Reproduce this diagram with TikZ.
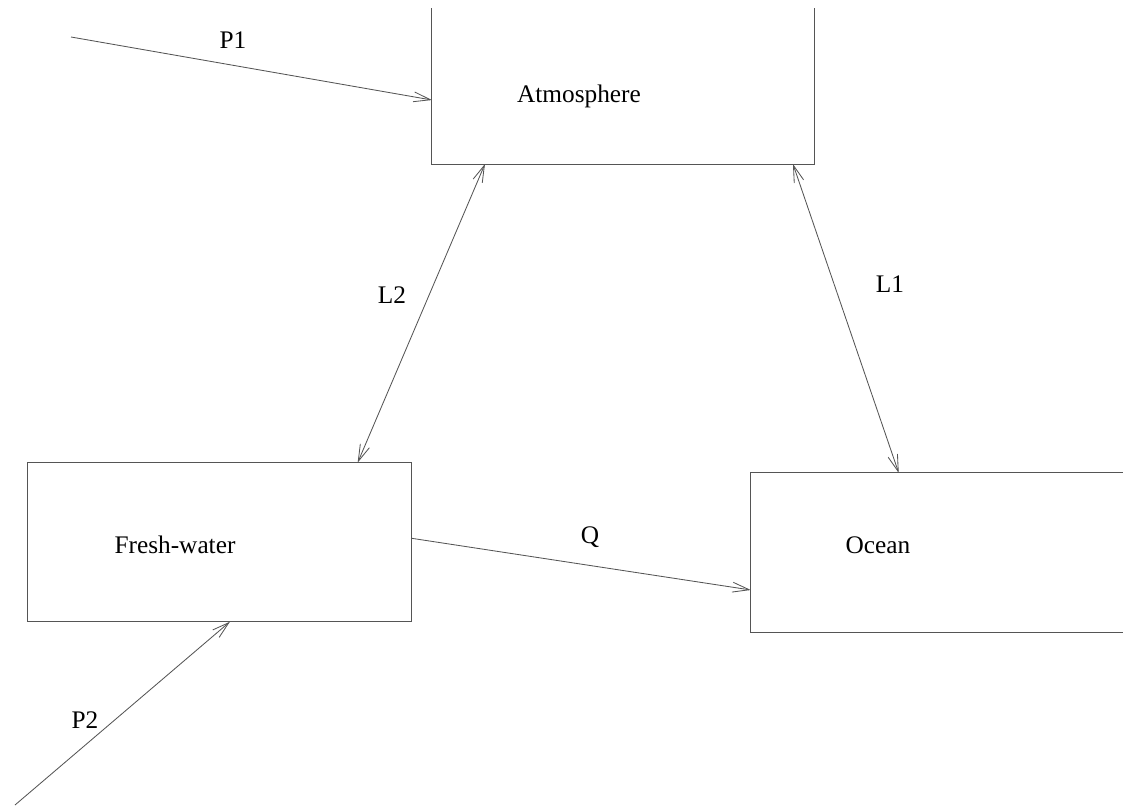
\documentclass[tikz,border=0pt]{standalone}
\usepackage{fontspec}
\setmainfont{Liberation Serif}
\usetikzlibrary{arrows.meta,positioning,calc}
\definecolor{linegray}{RGB}{85,85,85}

\begin{document}
\begin{tikzpicture}[x=0.025cm,y=-0.025cm,
    box/.style={draw=linegray,line width=0.7pt,inner sep=0pt,outer sep=0pt},
    flow/.style={draw=linegray,line width=0.6pt,-{Straight Barb[length=12pt,width=7pt]}},
    both/.style={flow,{Straight Barb[length=12pt,width=7pt]}-{Straight Barb[length=12pt,width=7pt]}},
    txt/.style={font=\fontsize{18}{22}\selectfont,inner sep=1pt}]
    \useasboundingbox (0,0) rectangle (1123,807);
    \clip (0,9) rectangle (1123,807);

    % Boxes
    \node[box,minimum width=9.55cm,minimum height=5.1cm] (atm) at (623,62) {};
    \node[box,minimum width=9.575cm,minimum height=3.975cm] (fresh) at (219.5,542.2) {};
    \node[box,minimum width=11.23cm,minimum height=3.98cm] (ocean) at (975.4,552.6) {};

    % Box texts
    \node[txt] (atmtext) at (579,96) {Atmosphere};
    \node[txt] (freshtext) at (175,545) {Fresh-water};
    \node[txt] (oceantext) at (878,545) {Ocean};

    % Free ends
    \coordinate (p1start) at (71,37);
    \coordinate (p2start) at (15,805);

    % Fluxes
    \draw[flow] (p1start) -- ($(atm.south west)+(0,-64)$);
    \draw[flow] (p2start) -- ($(fresh.south west)+(202,0)$);
    \draw[flow] ($(fresh.east)+(0,-4)$) -- ($(ocean.north west)+(0,117)$);
    \draw[both] ($(atm.south west)+(53,0)$) -- ($(fresh.north west)+(329.7,0)$);
    \draw[both] ($(atm.south west)+(361,0)$) -- ($(ocean.north west)+(148,0)$);

    % Flux labels
    \node[txt] (p1label) at (233,40) {P1};
    \node[txt] (p2label) at (85,720) {P2};
    \node[txt] (qlabel) at (590,537) {Q};
    \node[txt] (l2label) at (392,295) {L2};
    \node[txt] (l1label) at (890,284) {L1};
\end{tikzpicture}
\end{document}
